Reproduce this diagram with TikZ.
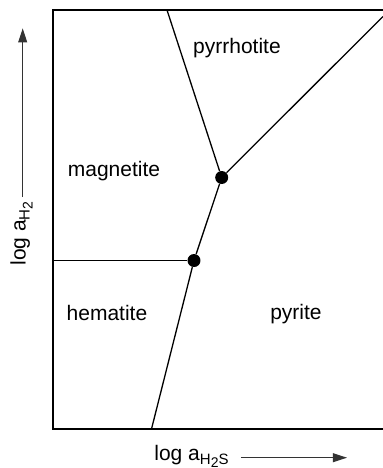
\documentclass[tikz,border=0pt]{standalone}
\usepackage{fontspec}
\setmainfont{Liberation Sans}
\usetikzlibrary{arrows.meta}
\newcommand{\subA}[1]{\raisebox{-2pt}{\fontsize{7.5pt}{8pt}\selectfont #1}}
\newcommand{\subB}[1]{\raisebox{-1.6pt}{\fontsize{7pt}{8pt}\selectfont #1}}
\begin{document}
\begin{tikzpicture}[
    x=0.5pt, y=-0.5pt,
    every node/.style={font=\fontsize{10.5pt}{12pt}\selectfont, inner sep=0pt},
    frame/.style={line width=0.75pt},
    border/.style={line width=0.65pt},
    triple/.style={circle, fill=black, minimum size=6.5pt},
    axisarrow/.style={line width=0.55pt, draw=black!80, -{Triangle[length=7pt,width=4.4pt]}}
  ]
    \useasboundingbox (0,0) rectangle (383,468);
    \coordinate (tl) at (53,10);
    \coordinate (tr) at (383,10);
    \coordinate (bl) at (53,429);
    \coordinate (br) at (383,429);
    \coordinate (ml) at (53,260.5);
    \coordinate (ptop) at (167,10);
    \coordinate (pright) at (383,16.5);
    \coordinate (pbot) at (151.5,429);
    \node[triple] (upper) at (221.7,177.5) {};
    \node[triple] (lower) at (194,260.5) {};
    \draw[frame] (tr) -- (tl) -- (bl) -- (br);
    \draw[border] (ptop) -- (upper);
    \draw[border] (upper) -- (pright);
    \draw[border] (upper) -- (lower);
    \draw[border] (ml) -- (lower);
    \draw[border] (lower) -- (pbot);
    \node (pyrrhotite) at (237,48) {pyrrhotite};
    \node (magnetite) at (114,171) {magnetite};
    \node (hematite) at (107,313) {hematite};
    \node (pyrite) at (296,314) {pyrite};
    \node[anchor=base west] (xlabel) at (154,460) {log a\subA{H\subB{2}S}};
    \node[anchor=base west, rotate=90] (ylabel) at (25.5,266) {log a\subA{H\subB{2}}};
    \coordinate (xstart) at (241,457.7);
    \coordinate (xend) at (347,457.7);
    \coordinate (ystart) at (22.7,197);
    \coordinate (yend) at (22.7,28.3);
    \draw[axisarrow] (xstart) -- (xend);
    \draw[axisarrow] (ystart) -- (yend);
  \end{tikzpicture}
\end{document}
